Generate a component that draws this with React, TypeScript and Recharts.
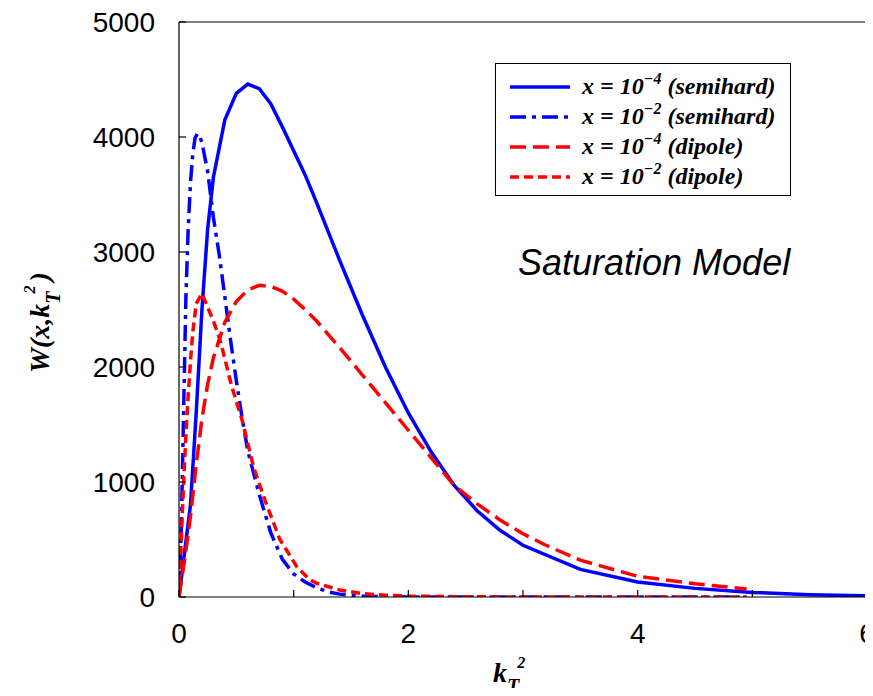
import { Legend, Line, LineChart, XAxis, YAxis } from 'recharts';

const WIDTH = 873;
const HEIGHT = 696;
const SANS = '"Liberation Sans", Arial, Helvetica, sans-serif';
const SERIF = '"Liberation Serif", "Times New Roman", serif';

// axis ticks
const xTicks = [0, 1, 2, 3, 4, 5, 6];
const xLabelled = [0, 2, 4, 6];
const yTicks = [0, 1000, 2000, 3000, 4000, 5000];

// x = 1e-4, semihard (solid blue)
const semihardLowX = [0, 0.05, 0.1, 0.15, 0.2, 0.25, 0.3, 0.4, 0.5, 0.6, 0.7, 0.8, 0.9, 1.0, 1.1, 1.2, 1.4, 1.6, 1.8, 2.0, 2.2, 2.4, 2.6, 2.8, 3.0, 3.5, 4.0, 4.5, 5.0, 5.5, 6.0];
const semihardLowW = [0, 400, 800, 1600, 2500, 3200, 3650, 4150, 4380, 4460, 4420, 4290, 4090, 3880, 3670, 3430, 2930, 2450, 2000, 1600, 1260, 970, 750, 580, 450, 240, 130, 75, 40, 20, 10];

// x = 1e-2, semihard (dash-dot blue)
const semihardHighX = [0, 0.02, 0.04, 0.06, 0.08, 0.1, 0.12, 0.14, 0.16, 0.18, 0.2, 0.25, 0.3, 0.35, 0.4, 0.45, 0.5, 0.55, 0.6, 0.7, 0.8, 0.9, 1.0, 1.1, 1.2, 1.3, 1.4, 1.6, 1.8, 2.0, 3.0, 4.0, 4.95];
const semihardHighW = [0, 600, 1600, 2600, 3200, 3600, 3850, 3990, 4030, 4010, 3950, 3700, 3300, 2980, 2610, 2230, 1880, 1560, 1270, 890, 560, 330, 200, 130, 80, 45, 25, 8, 2, 0, 0, 0, 0];

// x = 1e-4, dipole (long dash red)
const dipoleLowX = [0, 0.05, 0.1, 0.15, 0.2, 0.25, 0.3, 0.4, 0.5, 0.6, 0.7, 0.8, 0.9, 1.0, 1.1, 1.2, 1.4, 1.6, 1.8, 2.0, 2.2, 2.4, 2.6, 2.8, 3.0, 3.2, 3.5, 4.0, 4.5, 4.95];
const dipoleLowW = [0, 330, 700, 1150, 1550, 1850, 2080, 2390, 2570, 2670, 2710, 2700, 2660, 2590, 2500, 2400, 2170, 1930, 1690, 1450, 1210, 970, 810, 670, 550, 450, 320, 180, 115, 70];

// x = 1e-2, dipole (short dash red)
const dipoleHighX = [0, 0.02, 0.04, 0.06, 0.08, 0.1, 0.12, 0.15, 0.2, 0.25, 0.3, 0.36, 0.46, 0.55, 0.65, 0.75, 0.88, 1.03, 1.14, 1.2, 1.4, 1.6, 1.8, 2.0, 2.5, 3.0, 4.0, 4.95];
const dipoleHighW = [0, 500, 1000, 1400, 1750, 2050, 2300, 2550, 2640, 2520, 2400, 2230, 1830, 1540, 1130, 840, 500, 260, 150, 120, 60, 30, 15, 8, 2, 0, 0, 0];

const toPoints = (xs: number[], ws: number[]) => xs.map((x, i) => ({ x, w: ws[i] }));

const series = [
  { id: 'semihard-4', exp: '\u22124', model: 'semihard', color: '#0000ff', dash: undefined, data: toPoints(semihardLowX, semihardLowW) },
  { id: 'semihard-2', exp: '\u22122', model: 'semihard', color: '#0000ff', dash: '16 6 4 6', data: toPoints(semihardHighX, semihardHighW) },
  { id: 'dipole-4', exp: '\u22124', model: 'dipole', color: '#ff0000', dash: '16 7', data: toPoints(dipoleLowX, dipoleLowW) },
  { id: 'dipole-2', exp: '\u22122', model: 'dipole', color: '#ff0000', dash: '9 5', data: toPoints(dipoleHighX, dipoleHighW) },
];

const TICK_LEN = 7;

function BottomTick({ x, y, payload }: any) {
  return (
    <g>
      <line x1={x} x2={x} y1={y} y2={y - TICK_LEN} stroke="#000" strokeWidth={1.2} />
      {xLabelled.includes(payload.value) && (
        <text x={x} y={y + 46} textAnchor="middle" fontSize={28} fontFamily={SANS} fill="#000">
          {payload.value}
        </text>
      )}
    </g>
  );
}

function TopTick({ x, y }: any) {
  return <line x1={x} x2={x} y1={y} y2={y + TICK_LEN} stroke="#000" strokeWidth={1.2} />;
}

function LeftTick({ x, y, payload }: any) {
  return (
    <g>
      <line x1={x} x2={x + TICK_LEN} y1={y} y2={y} stroke="#000" strokeWidth={1.2} />
      <text x={x - 24} y={y} dy="0.36em" textAnchor="end" fontSize={28} fontFamily={SANS} fill="#000">
        {payload.value}
      </text>
    </g>
  );
}

function RightTick({ x, y }: any) {
  return <line x1={x} x2={x - TICK_LEN} y1={y} y2={y} stroke="#000" strokeWidth={1.2} />;
}

function LegendBox() {
  return (
    <div
      style={{
        border: '1.5px solid #000',
        background: '#fff',
        width: 296,
        height: 133,
        boxSizing: 'border-box',
        padding: '8px 0 0 13px',
      }}
    >
      {series.map((s) => (
        <div key={s.id} style={{ display: 'flex', alignItems: 'center', height: 30 }}>
          <svg width={62} height={8} style={{ marginRight: 11 }}>
            <line x1={1} x2={61} y1={4} y2={4} stroke={s.color} strokeWidth={3.5} strokeDasharray={s.dash} />
          </svg>
          <span
            style={{
              fontFamily: SERIF,
              fontWeight: 'bold',
              fontStyle: 'italic',
              fontSize: 24,
              whiteSpace: 'nowrap',
              lineHeight: '30px',
            }}
          >
            x = 10
            <span style={{ fontSize: 16, position: 'relative', top: -10 }}>{s.exp}</span> ({s.model})
          </span>
        </div>
      ))}
    </div>
  );
}

export default function App() {
  return (
    <div style={{ position: 'relative', width: WIDTH, height: HEIGHT, margin: -8, background: '#fff' }}>
      <LineChart width={WIDTH} height={HEIGHT} margin={{ top: 22, right: 6, bottom: 39, left: 0 }}>
        <XAxis
          dataKey="x"
          type="number"
          domain={[0, 6]}
          ticks={xTicks}
          interval={0}
          allowDataOverflow
          height={60}
          tickSize={0}
          tickMargin={0}
          tickLine={false}
          axisLine={{ stroke: '#000', strokeWidth: 1.2 }}
          tick={<BottomTick />}
        />
        <XAxis
          xAxisId="top"
          type="number"
          orientation="top"
          mirror
          domain={[0, 6]}
          ticks={xTicks}
          interval={0}
          tickSize={0}
          tickMargin={0}
          tickLine={false}
          axisLine={{ stroke: '#000', strokeWidth: 1.2 }}
          tick={<TopTick />}
        />
        <YAxis
          type="number"
          domain={[0, 5000]}
          ticks={yTicks}
          interval={0}
          allowDataOverflow
          width={179}
          tickSize={0}
          tickMargin={0}
          tickLine={false}
          axisLine={{ stroke: '#000', strokeWidth: 1.2 }}
          tick={<LeftTick />}
        />
        <YAxis
          yAxisId="right"
          type="number"
          orientation="right"
          mirror
          domain={[0, 5000]}
          ticks={yTicks}
          interval={0}
          tickSize={0}
          tickMargin={0}
          tickLine={false}
          axisLine={{ stroke: '#000', strokeWidth: 1.2 }}
          tick={<RightTick />}
        />
        <Legend
          layout="vertical"
          align="center"
          verticalAlign="middle"
          wrapperStyle={{ left: 495, top: 63, width: 296, height: 133 }}
          content={<LegendBox />}
        />
        {series.map((s) => (
          <Line
            key={s.id}
            data={s.data}
            dataKey="w"
            name={s.id}
            type="linear"
            stroke={s.color}
            strokeWidth={3.5}
            strokeDasharray={s.dash}
            dot={false}
            activeDot={false}
            isAnimationActive={false}
          />
        ))}
      </LineChart>
      <svg
        width={WIDTH}
        height={HEIGHT}
        style={{ position: 'absolute', left: 0, top: 0, pointerEvents: 'none' }}
      >
        <text x={518} y={275} fontSize={36} fontStyle="italic" fontFamily={SANS} fill="#000">
          Saturation Model
        </text>
        <text x={493} y={682} fontSize={28} fontStyle="italic" fontWeight="bold" fontFamily={SERIF} fill="#000">
          k
          <tspan fontSize={20} dy={11}>T</tspan>
          <tspan fontSize={16} dx={-2} dy={-25}>2</tspan>
        </text>
        <g transform="translate(49,373) rotate(-90)">
          <text x={0} y={0} fontSize={28} fontStyle="italic" fontWeight="bold" fontFamily={SERIF} fill="#000">
            W(x,k
            <tspan fontSize={20} dy={11}>T</tspan>
            <tspan fontSize={16} dx={-2} dy={-25}>2</tspan>
            <tspan fontSize={28} dx={4} dy={14}>)</tspan>
          </text>
        </g>
      </svg>
    </div>
  );
}
